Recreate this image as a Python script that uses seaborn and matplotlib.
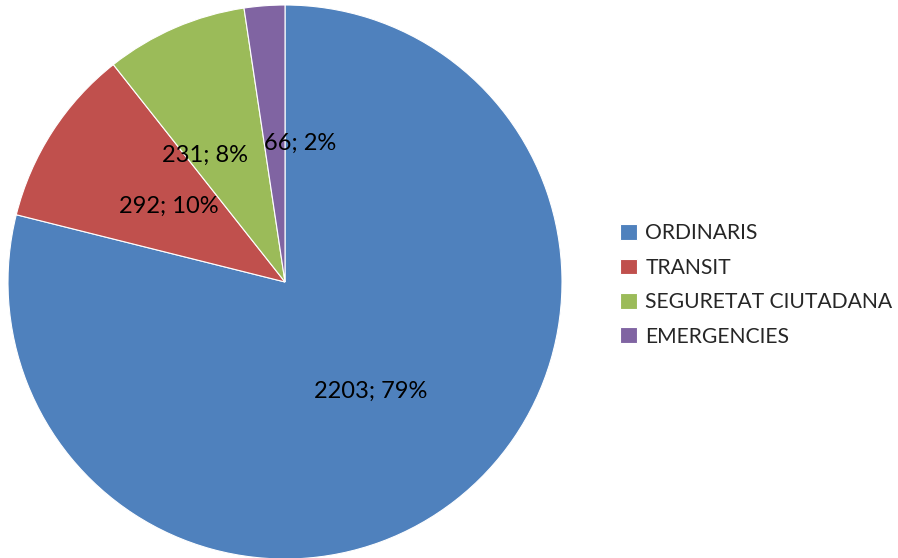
import matplotlib
matplotlib.use("Agg")
import matplotlib.pyplot as plt
import seaborn as sns
import numpy as np

categories = ["ORDINARIS", "TRANSIT", "SEGURETAT CIUTADANA", "EMERGENCIES"]
values = [2203, 292, 231, 66]
colors = ["#4F81BD", "#C0504D", "#9BBB59", "#8064A2"]

sns.set_style("white")
plt.rcParams['font.family'] = ['Lato', 'DejaVu Sans']

total = sum(values)
labels_txt = ["%d; %d%%" % (v, round(v * 100.0 / total)) for v in values]

# label placement (radius fraction, angle shift in degrees), like excel's best fit
label_r = [0.5, 0.5, 0.54, 0.505]
label_shift = [0, 0, 9, -10.5]

fig = plt.figure(figsize=(8.98, 5.58), dpi=100)
ax = fig.add_axes([8 / 898, -1 / 558, 554 / 898, 554 / 558])

wedges, _ = ax.pie(values, colors=colors, startangle=90, counterclock=False,
                   wedgeprops=dict(edgecolor="white", linewidth=0.8))
for w, t, r, s in zip(wedges, labels_txt, label_r, label_shift):
    ang = np.deg2rad((w.theta1 + w.theta2) / 2 + s)
    ax.text(r * np.cos(ang), r * np.sin(ang), t, ha="center", va="center",
            fontsize=17, color="black")
ax.set_aspect("equal")
ax.set_xlim(-1, 1)
ax.set_ylim(-1, 1)

fig.legend(wedges, categories, loc="center left", bbox_to_anchor=(612 / 898, 1 - 285 / 558),
           frameon=False, fontsize=15.2, handlelength=0.78, handleheight=0.78,
           handletextpad=0.4, labelspacing=0.68, borderaxespad=0)

fig.savefig("out.png", dpi=100)
